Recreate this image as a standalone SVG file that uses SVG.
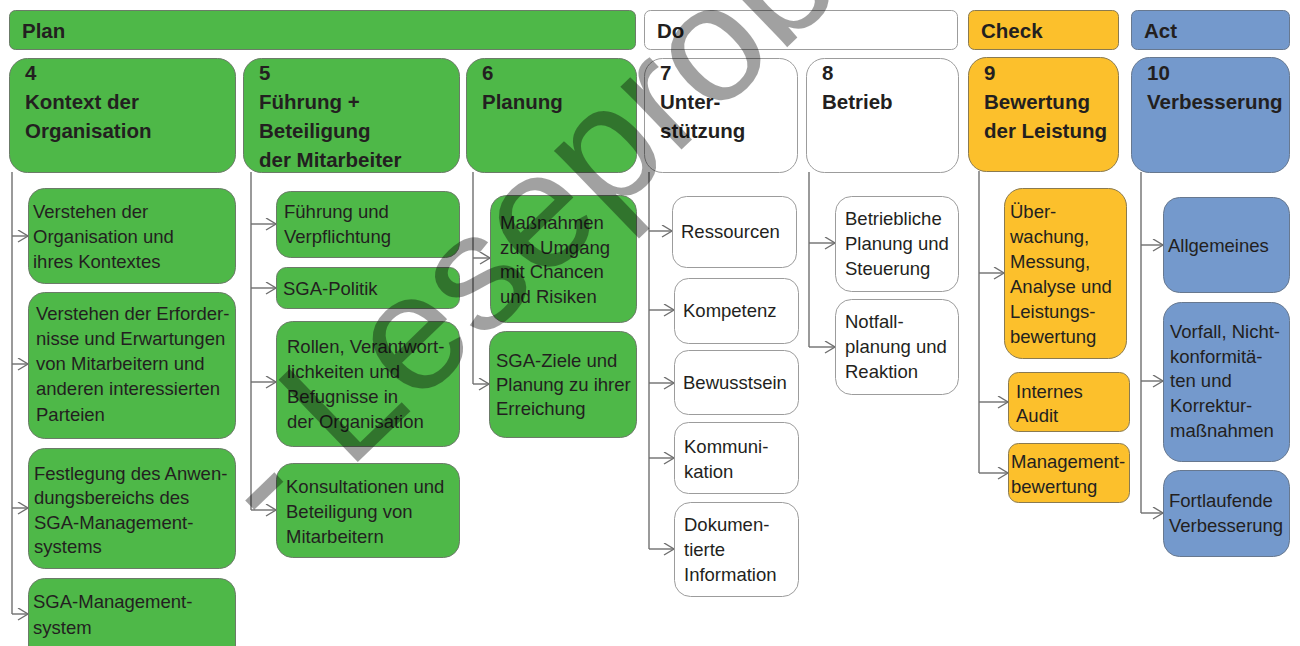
<svg xmlns="http://www.w3.org/2000/svg" width="1300" height="646" viewBox="0 0 1300 646">
<style>
.g{fill:#4eb848;stroke:#6b7b68;stroke-width:1}
.w{fill:#ffffff;stroke:#9c9c9c;stroke-width:1}
.y{fill:#fcc02c;stroke:#8a7a50;stroke-width:1}
.b{fill:#7499cc;stroke:#67788f;stroke-width:1}
.h{font-family:"Liberation Sans",Arial,sans-serif;font-weight:bold;font-size:20.5px;fill:#231f20}
.t{font-family:"Liberation Sans",Arial,sans-serif;font-size:18.5px;fill:#231f20}
.c{fill:none;stroke:#6f6f6f;stroke-width:1.4}
.a{fill:none;stroke:#6f6f6f;stroke-width:1.4;marker-end:url(#arr)}
.wm{font-family:"Liberation Sans",Arial,sans-serif;font-size:166px;fill:#000;fill-opacity:0.37}
</style>
<defs>
<marker id="arr" markerUnits="userSpaceOnUse" markerWidth="14" markerHeight="14" refX="11" refY="6" orient="auto" viewBox="0 0 14 14">
<path d="M1,0 L11,6 L1,12" fill="none" stroke="#6f6f6f" stroke-width="1.4"/>
</marker>
</defs>
<rect width="1300" height="646" fill="#ffffff"/>

<!-- headers -->
<g id="hdr-plan"><rect class="g" x="9.5" y="10.5" width="626" height="39" rx="6"/><text class="h" x="22" y="38">Plan</text></g>
<g id="hdr-do"><rect class="w" x="644.5" y="10.5" width="313" height="39" rx="6"/><text class="h" x="657" y="38">Do</text></g>
<g id="hdr-check"><rect class="y" x="968.5" y="10.5" width="150" height="39" rx="6"/><text class="h" x="981" y="38">Check</text></g>
<g id="hdr-act"><rect class="b" x="1131.5" y="10.5" width="158" height="39" rx="6"/><text class="h" x="1144" y="38">Act</text></g>

<!-- connectors -->
<g id="connectors">
<path class="c" d="M12,172 V614"/>
<path class="a" d="M12,236 H28"/>
<path class="a" d="M12,364 H28"/>
<path class="a" d="M12,508 H28"/>
<path class="a" d="M12,614 H28"/>
<path class="c" d="M251,172 V510"/>
<path class="a" d="M251,224 H276"/>
<path class="a" d="M251,288 H276"/>
<path class="a" d="M251,382 H276"/>
<path class="a" d="M251,510 H276"/>
<path class="c" d="M473,172 V384"/>
<path class="a" d="M473,258 H490"/>
<path class="a" d="M473,384 H489"/>
<path class="c" d="M649,172 V549"/>
<path class="a" d="M649,231 H672"/>
<path class="a" d="M649,310 H674"/>
<path class="a" d="M649,383 H674"/>
<path class="a" d="M649,458 H674"/>
<path class="a" d="M649,549 H674"/>
<path class="c" d="M809,172 V347"/>
<path class="a" d="M809,243 H835"/>
<path class="a" d="M809,347 H835"/>
<path class="c" d="M979,171 V473"/>
<path class="a" d="M979,273 H1004"/>
<path class="a" d="M979,402 H1008"/>
<path class="a" d="M979,473 H1008"/>
<path class="c" d="M1141,172 V513"/>
<path class="a" d="M1141,245 H1163"/>
<path class="a" d="M1141,381 H1163"/>
<path class="a" d="M1141,513 H1163"/>
</g>

<!-- main nodes -->
<g id="n4"><rect class="g" x="9.5" y="58.5" width="226" height="114" rx="18"/>
<text class="h" x="25" y="80">4</text><text class="h" x="25" y="109">Kontext der</text><text class="h" x="25" y="138">Organisation</text></g>
<g id="n5"><rect class="g" x="243.5" y="58.5" width="216" height="114" rx="18"/>
<text class="h" x="259" y="80">5</text><text class="h" x="259" y="109">Führung +</text><text class="h" x="259" y="138">Beteiligung</text><text class="h" x="259" y="167">der Mitarbeiter</text></g>
<g id="n6"><rect class="g" x="466.5" y="58.5" width="170" height="114" rx="18"/>
<text class="h" x="482" y="80">6</text><text class="h" x="482" y="109">Planung</text></g>
<g id="n7"><rect class="w" x="644.5" y="58.5" width="153" height="114" rx="18"/>
<text class="h" x="660" y="80">7</text><text class="h" x="660" y="109">Unter-</text><text class="h" x="660" y="138">stützung</text></g>
<g id="n8"><rect class="w" x="806.5" y="58.5" width="152" height="114" rx="18"/>
<text class="h" x="822" y="80">8</text><text class="h" x="822" y="109">Betrieb</text></g>
<g id="n9"><rect class="y" x="968.5" y="57.5" width="150" height="114" rx="18"/>
<text class="h" x="984" y="80">9</text><text class="h" x="984" y="109">Bewertung</text><text class="h" x="984" y="138">der Leistung</text></g>
<g id="n10"><rect class="b" x="1131.5" y="57.5" width="158" height="115" rx="18"/>
<text class="h" x="1147" y="80">10</text><text class="h" x="1147" y="109">Verbesserung</text></g>

<!-- column 4 -->
<g id="n4-1"><rect class="g" x="28.5" y="188.5" width="207" height="95" rx="16"/>
<text class="t" x="33" y="218">Verstehen der</text><text class="t" x="33" y="243">Organisation und</text><text class="t" x="33" y="268">ihres Kontextes</text></g>
<g id="n4-2"><rect class="g" x="28.5" y="292.5" width="207" height="146" rx="16"/>
<text class="t" x="36" y="320">Verstehen der Erforder-</text><text class="t" x="36" y="345">nisse und Erwartungen</text><text class="t" x="36" y="370">von Mitarbeitern und</text><text class="t" x="36" y="395">anderen interessierten</text><text class="t" x="36" y="421">Parteien</text></g>
<g id="n4-3"><rect class="g" x="28.5" y="448.5" width="207" height="120" rx="16"/>
<text class="t" x="34" y="480">Festlegung des Anwen-</text><text class="t" x="34" y="504">dungsbereichs des</text><text class="t" x="34" y="529">SGA-Management-</text><text class="t" x="34" y="553">systems</text></g>
<g id="n4-4"><rect class="g" x="28.5" y="578.5" width="207" height="90" rx="16"/>
<text class="t" x="33" y="608">SGA-Management-</text><text class="t" x="33" y="634">system</text></g>

<!-- column 5 -->
<g id="n5-1"><rect class="g" x="276.5" y="191.5" width="183" height="66" rx="14"/>
<text class="t" x="284" y="218">Führung und</text><text class="t" x="284" y="243">Verpflichtung</text></g>
<g id="n5-2"><rect class="g" x="276.5" y="267.5" width="183" height="41" rx="10"/>
<text class="t" x="283" y="295">SGA-Politik</text></g>
<g id="n5-3"><rect class="g" x="276.5" y="321.5" width="183" height="125" rx="16"/>
<text class="t" x="287" y="353">Rollen, Verantwort-</text><text class="t" x="287" y="378">lichkeiten und</text><text class="t" x="287" y="403">Befugnisse in</text><text class="t" x="287" y="428">der Organisation</text></g>
<g id="n5-4"><rect class="g" x="276.5" y="463.5" width="183" height="94" rx="16"/>
<text class="t" x="286" y="493">Konsultationen und</text><text class="t" x="286" y="518">Beteiligung von</text><text class="t" x="286" y="543">Mitarbeitern</text></g>

<!-- column 6 -->
<g id="n6-1"><rect class="g" x="490.5" y="195.5" width="146" height="127" rx="16"/>
<text class="t" x="500" y="229">Maßnahmen</text><text class="t" x="500" y="254">zum Umgang</text><text class="t" x="500" y="278">mit Chancen</text><text class="t" x="500" y="303">und Risiken</text></g>
<g id="n6-2"><rect class="g" x="489.5" y="331.5" width="147" height="106" rx="16"/>
<text class="t" x="496" y="367">SGA-Ziele und</text><text class="t" x="496" y="391">Planung zu ihrer</text><text class="t" x="496" y="415">Erreichung</text></g>

<!-- column 7 -->
<g id="n7-1"><rect class="w" x="672.5" y="196.5" width="124" height="71" rx="14"/>
<text class="t" x="681" y="238">Ressourcen</text></g>
<g id="n7-2"><rect class="w" x="674.5" y="278.5" width="124" height="65" rx="14"/>
<text class="t" x="683" y="317">Kompetenz</text></g>
<g id="n7-3"><rect class="w" x="674.5" y="350.5" width="124" height="64" rx="14"/>
<text class="t" x="683" y="389">Bewusstsein</text></g>
<g id="n7-4"><rect class="w" x="674.5" y="422.5" width="124" height="71" rx="14"/>
<text class="t" x="684" y="453">Kommuni-</text><text class="t" x="684" y="478">kation</text></g>
<g id="n7-5"><rect class="w" x="674.5" y="502.5" width="124" height="94" rx="16"/>
<text class="t" x="684" y="531">Dokumen-</text><text class="t" x="684" y="556">tierte</text><text class="t" x="684" y="581">Information</text></g>

<!-- column 8 -->
<g id="n8-1"><rect class="w" x="835.5" y="196.5" width="123" height="95" rx="16"/>
<text class="t" x="845" y="225">Betriebliche</text><text class="t" x="845" y="250">Planung und</text><text class="t" x="845" y="275">Steuerung</text></g>
<g id="n8-2"><rect class="w" x="835.5" y="299.5" width="123" height="95" rx="16"/>
<text class="t" x="845" y="328">Notfall-</text><text class="t" x="845" y="353">planung und</text><text class="t" x="845" y="378">Reaktion</text></g>

<!-- column 9 -->
<g id="n9-1"><rect class="y" x="1004.5" y="188.5" width="122" height="170" rx="18"/>
<text class="t" x="1010" y="218">Über-</text><text class="t" x="1010" y="243">wachung,</text><text class="t" x="1010" y="268">Messung,</text><text class="t" x="1010" y="293">Analyse und</text><text class="t" x="1010" y="318">Leistungs-</text><text class="t" x="1010" y="343">bewertung</text></g>
<g id="n9-2"><rect class="y" x="1008.5" y="372.5" width="121" height="59" rx="10"/>
<text class="t" x="1016" y="398">Internes</text><text class="t" x="1016" y="422">Audit</text></g>
<g id="n9-3"><rect class="y" x="1008.5" y="443.5" width="121" height="59" rx="10"/>
<text class="t" x="1011" y="468">Management-</text><text class="t" x="1011" y="493">bewertung</text></g>

<!-- column 10 -->
<g id="n10-1"><rect class="b" x="1163.5" y="197.5" width="126" height="95" rx="16"/>
<text class="t" x="1168" y="252">Allgemeines</text></g>
<g id="n10-2"><rect class="b" x="1163.5" y="302.5" width="126" height="159" rx="18"/>
<text class="t" x="1170" y="338">Vorfall, Nicht-</text><text class="t" x="1170" y="363">konformitä-</text><text class="t" x="1170" y="387">ten und</text><text class="t" x="1170" y="412">Korrektur-</text><text class="t" x="1170" y="437">maßnahmen</text></g>
<g id="n10-3"><rect class="b" x="1163.5" y="470.5" width="126" height="86" rx="16"/>
<text class="t" x="1169" y="507">Fortlaufende</text><text class="t" x="1169" y="532">Verbesserung</text></g>

<!-- watermark -->
<text class="wm" transform="translate(275,542) rotate(-44)">- Leseprobe -</text>
</svg>
